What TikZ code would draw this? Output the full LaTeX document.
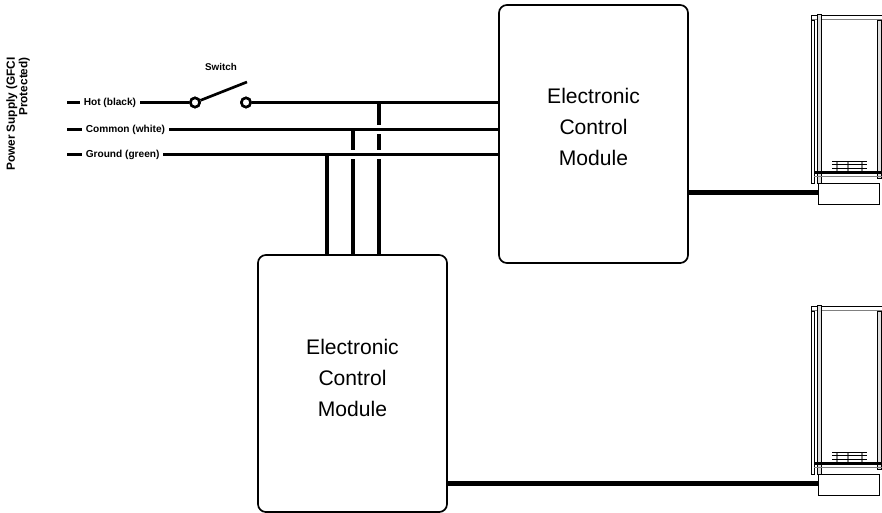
\documentclass[tikz,border=0pt]{standalone}
\usepackage{fontspec}
\setmainfont{Liberation Sans}
\usetikzlibrary{backgrounds}

\begin{document}
\begin{tikzpicture}[
  x=0.025cm, y=-0.025cm,
  wire/.style={line width=2.2pt},
  crossing/.style={line width=2.2pt, preaction={draw=white, line width=6.5pt}},
  module/.style={draw, line width=1.2pt, rounded corners=0.2cm, minimum width=4.725cm, inner sep=0pt},
  modtext/.style={align=center, font=\fontsize{15}{22}\selectfont},
  lbl/.style={fill=white, inner xsep=2.5pt, inner ysep=1pt, anchor=west, font=\fontsize{7.2}{8}\selectfont\bfseries},
  contact/.style={circle, draw, fill=white, line width=1.8pt, inner sep=0pt, minimum size=0.23cm},
  feed/.style={line width=3.8pt},
  post/.style={draw, fill=gray!25, line width=0.5pt}
]
\useasboundingbox (0,0) rectangle (882,513);

% control modules
\node[module, minimum height=6.45cm] (ecmTop) at (593.5,134) {};
\node[modtext] (ecmTopText) at ([yshift=0.17cm]ecmTop.center) {Electronic\\Control\\Module};
\node[module, minimum height=6.425cm] (ecmBot) at (352.5,383.5) {};
\node[modtext] (ecmBotText) at ([yshift=0.13cm]ecmBot.center) {Electronic\\Control\\Module};

% supply lines
\coordinate (hotStart) at (67,102.5);
\coordinate (comStart) at (67,129.5);
\coordinate (gndStart) at (67,154.5);
\coordinate (hotTap) at (379,102.5);
\coordinate (comTap) at (353,129.5);
\coordinate (gndTap) at (327,154.5);
\coordinate (lever) at (247,82);

\begin{scope}[on background layer]
  \draw[wire] (hotTap) -- (hotTap |- ecmBot.north);
  \draw[crossing] (comStart) -- (comStart -| ecmTop.west);
  \draw[wire] (comTap) -- (comTap |- ecmBot.north);
  \draw[crossing] (gndStart) -- (gndStart -| ecmTop.west);
  \draw[wire] (gndTap) -- (gndTap |- ecmBot.north);
  \node[contact] (sw1) at (195,102.5) {};
  \node[contact] (sw2) at (246,102.5) {};
  \draw[wire] (hotStart) -- (sw1);
  \draw[wire] (sw2) -- (sw2 -| ecmTop.west);
  \draw[line width=1.9pt] (sw1) -- (lever);
  \node[contact] at (sw1) {};
  \node[contact] at (sw2) {};
  \node[lbl] (hotLbl) at (80,102.5) {Hot (black)};
  \node[lbl] (comLbl) at (82,129.5) {Common (white)};
  \node[lbl] (gndLbl) at (82,154.5) {Ground (green)};
\end{scope}

\node[font=\fontsize{7}{8}\selectfont\bfseries] (swLbl) at (221,67) {Switch};
\node[rotate=90, anchor=east, align=right, inner sep=0pt,
  font=\fontsize{8.4}{7.6}\selectfont\bfseries] (psu) at (18,57) {Power Supply (GFCI\\Protected)};

% cabinets
\foreach \dy/\n in {0/1, 291/2} {
  \begin{scope}[shift={(0,\dy)}]
    \draw[line width=0.6pt] (811,15) -- (884,15);
    \draw[gray, line width=1.4pt] (811,19.5) -- (884,19.5);
    \draw[line width=0.5pt] (811,15) -- (811,20);
    \draw[line width=0.5pt] (811,20) rectangle (814,183);
    \draw[post] (817,14) rectangle (821,183);
    \draw[post] (877,20) rectangle (881,178);
    \foreach \gx in {837,848,862}
      \draw[gray, line width=1.2pt] (\gx,161) -- (\gx,172);
    \foreach \gy in {161.5,164.8,168.1}
      \draw[line width=0.8pt] (832,\gy) -- (867,\gy);
    \draw[line width=1.6pt] (814,172.5) -- (884,172.5);
    \draw[gray, line width=0.8pt] (814,176.5) -- (884,176.5);
    \draw[line width=0.6pt, fill=white] (818,183) rectangle (879,204);
    \coordinate (base\n) at (818,192.5);
  \end{scope}
}

% feeds to cabinets
\draw[feed] (ecmTop.east |- base1) -- (base1);
\draw[feed] (ecmBot.east |- base2) -- (base2);
\end{tikzpicture}
\end{document}
